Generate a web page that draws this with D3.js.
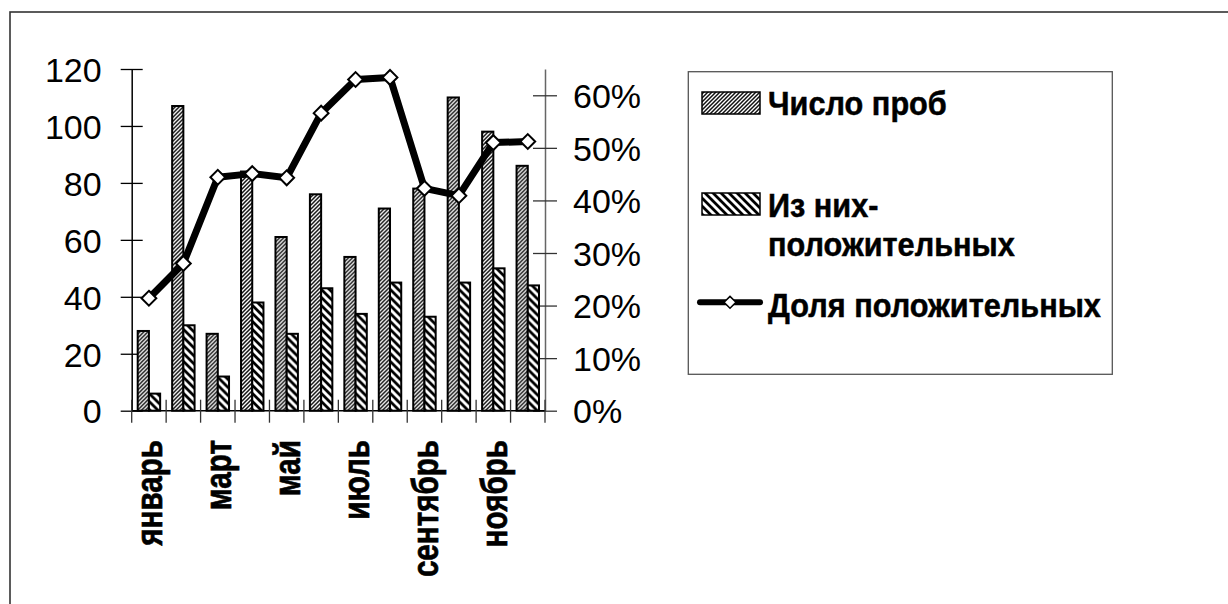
<!DOCTYPE html>
<html>
<head>
    <meta charset="utf-8">
    <title>Число проб и доля положительных</title>
    <script src="https://d3js.org/d3.v7.min.js"></script>
    <style>
        body { margin: 0; background: #fff; }
        .axis text { font-family: "Liberation Sans", Arial, sans-serif; font-size: 34px; fill: #000; }
        .xlab { font-family: "Liberation Sans", Arial, sans-serif; font-size: 37px; font-weight: bold; stroke: #000; stroke-width: 0.7px; }
        .legend text { font-family: "Liberation Sans", Arial, sans-serif; font-size: 33px; font-weight: bold; stroke: #000; stroke-width: 0.5px; }
    </style>
</head>
<body>
    <svg width="1228" height="604"></svg>
    <script>
        var months = ["январь", "февраль", "март", "апрель", "май", "июнь",
                      "июль", "август", "сентябрь", "октябрь", "ноябрь", "декабрь"];
        var samples = [28, 107, 27, 84, 61, 76, 54, 71, 78, 110, 98, 86];
        var positives = [6, 30, 12, 38, 27, 43, 34, 45, 33, 45, 50, 44];
        var share = [0.214, 0.280, 0.444, 0.451, 0.443, 0.566, 0.630, 0.634, 0.423, 0.409, 0.510, 0.512];
        var leftTicks = [0, 20, 40, 60, 80, 100, 120];
        var rightTicks = [0, 0.1, 0.2, 0.3, 0.4, 0.5, 0.6];
        var seriesNames = ["Число проб", "Из них-положительных", "Доля положительных"];

        var svg = d3.select("svg");
        var plot = {left: 131.7, right: 545, top: 69, bottom: 410.7};

        // hatch patterns
        var defs = svg.append("defs");
        var p1 = defs.append("pattern").attr("id", "hatch1")
            .attr("patternUnits", "userSpaceOnUse").attr("width", 4).attr("height", 4);
        p1.append("rect").attr("width", 4).attr("height", 4).attr("fill", "#fff");
        p1.append("path").attr("d", "M-1,1 l2,-2 M0,4 l4,-4 M3,5 l2,-2")
            .attr("stroke", "#111").attr("stroke-width", 1.5);
        var p2 = defs.append("pattern").attr("id", "hatch2")
            .attr("patternUnits", "userSpaceOnUse").attr("width", 8).attr("height", 8);
        p2.append("rect").attr("width", 8).attr("height", 8).attr("fill", "#fff");
        p2.append("path").attr("d", "M0,0 l8,8 M-2,6 l4,4 M6,-2 l4,4")
            .attr("stroke", "#000").attr("stroke-width", 2.8);

        // outer frame (only top & left inside the picture)
        svg.append("rect").attr("x", 10).attr("y", 12).attr("width", 1400).attr("height", 800)
            .attr("fill", "none").attr("stroke", "#333").attr("stroke-width", 1.6);

        var x0 = d3.scaleBand().domain(months).range([plot.left, plot.right]);
        var x1 = d3.scaleBand().domain([0, 1]).range([6, x0.bandwidth() - 6]);
        var y = d3.scaleLinear().domain([0, 120]).range([plot.bottom, plot.top]);
        var y2 = d3.scaleLinear().domain([0, 0.65]).range([plot.bottom, plot.top]);

        // left axis
        svg.append("g").attr("class", "axis")
            .attr("transform", "translate(" + plot.left + ",0)")
            .call(d3.axisLeft(y).tickValues(leftTicks).tickSize(0).tickPadding(30))
            .call(function(g) {
                g.select(".domain").attr("stroke", "#000").attr("stroke-width", 1.5);
                g.selectAll(".tick line").attr("x1", -11).attr("x2", 11).attr("stroke", "#000").attr("stroke-width", 1.3);
                g.selectAll(".tick text").attr("dy", "0.36em");
            });

        // right axis
        svg.append("g").attr("class", "axis")
            .attr("transform", "translate(" + plot.right + ",0)")
            .call(d3.axisRight(y2).tickValues(rightTicks).tickFormat(d3.format(".0%")).tickSize(0).tickPadding(28))
            .call(function(g) {
                g.select(".domain").attr("stroke", "#666").attr("stroke-width", 1.5);
                g.selectAll(".tick line").attr("x1", -12).attr("x2", 12).attr("stroke", "#333").attr("stroke-width", 1.3);
                g.selectAll(".tick text").attr("dy", "0.36em");
            });

        // x axis
        var xAxis = svg.append("g")
            .attr("transform", "translate(0," + plot.bottom + ")");
        xAxis.append("line").attr("x1", plot.left).attr("x2", plot.right)
            .attr("stroke", "#000").attr("stroke-width", 1.5);
        var bounds = months.map(function(m) { return x0(m); }).concat([plot.right]);
        xAxis.selectAll(".xt").data(bounds).enter().append("line")
            .attr("x1", function(d) { return d; }).attr("x2", function(d) { return d; })
            .attr("y1", -11).attr("y2", 12)
            .attr("stroke", "#333").attr("stroke-width", 1.3);
        svg.selectAll(".xlab").data(months.filter(function(d, i) { return i % 2 === 0; }))
            .enter().append("text").attr("class", "xlab")
            .attr("transform", function(d) {
                return "translate(" + (x0(d) + x0.bandwidth() / 2) + ",440) rotate(-90) scale(0.8,1)";
            })
            .attr("dy", "0.36em")
            .attr("text-anchor", "end")
            .text(function(d) { return d; });

        // bars
        var groups = svg.append("g").selectAll("g").data(months).enter().append("g")
            .attr("transform", function(d) { return "translate(" + x0(d) + ",0)"; });
        groups.append("rect")
            .attr("x", x1(0)).attr("width", x1.bandwidth())
            .attr("y", function(d, i) { return y(samples[i]); })
            .attr("height", function(d, i) { return plot.bottom - y(samples[i]); })
            .attr("fill", "url(#hatch1)").attr("stroke", "#000").attr("stroke-width", 2);
        groups.append("rect")
            .attr("x", x1(1)).attr("width", x1.bandwidth())
            .attr("y", function(d, i) { return y(positives[i]); })
            .attr("height", function(d, i) { return plot.bottom - y(positives[i]); })
            .attr("fill", "url(#hatch2)").attr("stroke", "#000").attr("stroke-width", 2);

        // share line
        var cx = function(i) { return x0(months[i]) + x0.bandwidth() / 2; };
        var line = d3.line().x(function(d, i) { return cx(i); }).y(function(d) { return y2(d); });
        svg.append("path").datum(share).attr("d", line)
            .attr("fill", "none").attr("stroke", "#000").attr("stroke-width", 7)
            .attr("stroke-linejoin", "round");
        var diamond = d3.symbol().type(d3.symbolDiamond2).size(140);
        svg.selectAll(".mk").data(share).enter().append("path")
            .attr("d", diamond)
            .attr("transform", function(d, i) { return "translate(" + cx(i) + "," + y2(d) + ")"; })
            .attr("fill", "#fff").attr("stroke", "#000").attr("stroke-width", 2);

        // legend
        var legend = svg.append("g").attr("class", "legend");
        legend.append("rect").attr("x", 688.3).attr("y", 71.7).attr("width", 424).attr("height", 302.6)
            .attr("fill", "#fff").attr("stroke", "#555").attr("stroke-width", 1.3);
        legend.append("rect").attr("x", 702).attr("y", 92).attr("width", 58).attr("height", 22)
            .attr("fill", "url(#hatch1)").attr("stroke", "#000").attr("stroke-width", 1.5);
        legend.append("rect").attr("x", 702).attr("y", 193).attr("width", 58).attr("height", 22)
            .attr("fill", "url(#hatch2)").attr("stroke", "#000").attr("stroke-width", 1.5);
        legend.append("line").attr("x1", 700).attr("x2", 760).attr("y1", 302.3).attr("y2", 302.3)
            .attr("stroke", "#000").attr("stroke-width", 6).attr("stroke-linecap", "round");
        legend.append("path").attr("d", d3.symbol().type(d3.symbolDiamond2).size(90))
            .attr("transform", "translate(730,302.3)")
            .attr("fill", "#fff").attr("stroke", "#000").attr("stroke-width", 1.5);

        // legend labels, slightly condensed like the original
        var labels = [
            {lines: [seriesNames[0]], y: 115},
            {lines: ["Из них-", "положительных"], y: 216.5},
            {lines: [seriesNames[2]], y: 316.5}
        ];
        labels.forEach(function(l) {
            var t = legend.append("g")
                .attr("transform", "translate(768," + l.y + ") scale(0.93,1)")
                .append("text");
            l.lines.forEach(function(s, k) {
                t.append("tspan").attr("x", 0).attr("dy", k === 0 ? 0 : 40).text(s);
            });
        });
    </script>
</body>
</html>
